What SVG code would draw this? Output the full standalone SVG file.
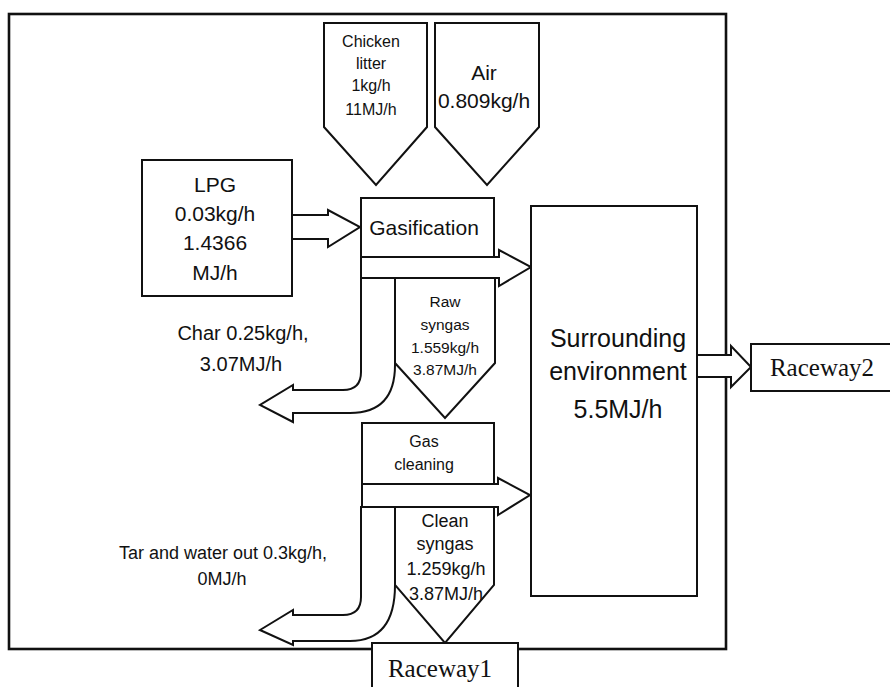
<svg xmlns="http://www.w3.org/2000/svg" width="890" height="687" viewBox="0 0 890 687">
<style>
.box{fill:#fff;stroke:#111;stroke-width:2}
.frame{fill:none;stroke:#111;stroke-width:2.6}
.arr{fill:#fff;stroke:#111;stroke-width:2;stroke-linejoin:miter}
text{font-family:"Liberation Sans",Arial,sans-serif;fill:#111;text-anchor:middle}
.serif{font-family:"Liberation Serif","Times New Roman",serif}
</style>
<rect width="890" height="687" fill="#fff"/>
<rect id="frame" class="frame" x="9" y="14" width="717" height="635"/>

<g id="connectors">
  <polygon class="arr" points="292,215 328,215 328,210 360,227 328,247 328,239 292,239"/>
  <polygon class="arr" points="361,257 499,257 499,250 531,267 499,286 499,278 361,278"/>
  <polygon class="arr" points="362,484 498,484 498,478 530,495 498,515 498,507 362,507"/>
  <path class="arr" d="M361,278 L361,372 Q361,390 343,390 L293,390 L293,385 L260,405 L293,422 L293,413 L350,413 Q395,413 395,365 L395,278 Z"/>
  <path class="arr" d="M361,507 L361,597 Q361,615 343,615 L293,615 L293,610 L260,630 L293,645 L293,641 L350,641 Q395,641 395,585 L395,507 Z"/>
  <polygon class="arr" points="697,355 731,355 731,346 751,367 731,387 731,377 697,377"/>
</g>

<g id="chicken-litter">
  <polygon class="box" points="324,23 427,23 427,127 376,185 324,127"/>
  <text x="371" y="47" font-size="16">Chicken</text>
  <text x="371" y="69" font-size="16">litter</text>
  <text x="371" y="91" font-size="16">1kg/h</text>
  <text x="371" y="115" font-size="16">11MJ/h</text>
</g>

<g id="air">
  <polygon class="box" points="435,23 539,23 539,127 487,185 435,127"/>
  <text x="484" y="80" font-size="21">Air</text>
  <text x="484" y="108" font-size="21">0.809kg/h</text>
</g>

<g id="lpg">
  <rect class="box" x="142" y="160" width="150" height="136"/>
  <text x="215" y="192" font-size="21">LPG</text>
  <text x="215" y="221" font-size="21">0.03kg/h</text>
  <text x="215" y="250" font-size="21">1.4366</text>
  <text x="215" y="280" font-size="21">MJ/h</text>
</g>

<g id="gasification">
  <rect class="box" x="361" y="198" width="133" height="59"/>
  <text x="424" y="235" font-size="21">Gasification</text>
</g>

<g id="raw-syngas">
  <polygon class="box" points="395,278 495,278 495,363 445,418 395,363"/>
  <text x="445" y="307" font-size="15.5">Raw</text>
  <text x="445" y="330" font-size="15.5">syngas</text>
  <text x="445" y="353" font-size="15.5">1.559kg/h</text>
  <text x="445" y="375" font-size="15.5">3.87MJ/h</text>
</g>

<g id="char">
  <text x="243" y="340" font-size="20">Char 0.25kg/h,</text>
  <text x="241" y="371" font-size="20">3.07MJ/h</text>
</g>

<g id="gas-cleaning">
  <rect class="box" x="362" y="423" width="132" height="61"/>
  <text x="424" y="447" font-size="16">Gas</text>
  <text x="424" y="470" font-size="16">cleaning</text>
</g>

<g id="clean-syngas">
  <polygon class="box" points="395,507 494,507 494,585 445,643 395,585"/>
  <text x="445" y="527" font-size="18">Clean</text>
  <text x="445" y="550" font-size="18">syngas</text>
  <text x="446" y="575" font-size="18">1.259kg/h</text>
  <text x="446" y="600" font-size="18">3.87MJ/h</text>
</g>

<g id="tar">
  <text x="223" y="559" font-size="18">Tar and water out 0.3kg/h,</text>
  <text x="222" y="585" font-size="18">0MJ/h</text>
</g>

<g id="surrounding">
  <rect class="box" x="531" y="206" width="166" height="390"/>
  <text x="618" y="347" font-size="25">Surrounding</text>
  <text x="618" y="380" font-size="25">environment</text>
  <text x="618" y="418" font-size="25">5.5MJ/h</text>
</g>

<g id="raceway2">
  <rect class="box" x="751" y="344" width="140" height="47"/>
  <text class="serif" x="822" y="376" font-size="25">Raceway2</text>
</g>

<g id="raceway1">
  <rect class="box" x="372" y="643" width="146" height="50"/>
  <text class="serif" x="440" y="677" font-size="25">Raceway1</text>
</g>
</svg>
